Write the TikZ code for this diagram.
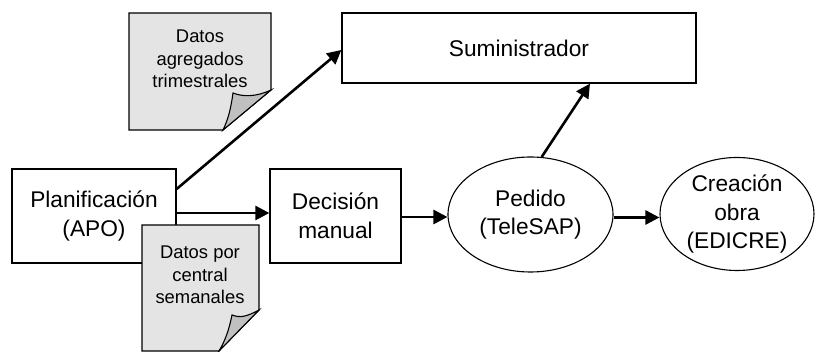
\documentclass[tikz,border=0pt]{standalone}
\usepackage{fontspec}
\setmainfont{Liberation Sans}
\usetikzlibrary{shapes.geometric,arrows.meta}
\definecolor{notefill}{HTML}{E4E4E4}
\definecolor{flapfill}{HTML}{C0C0C0}
\begin{document}
\begin{tikzpicture}[x=1pt,y=-1pt,
  boxnode/.style={draw,line width=1.3pt,inner sep=0pt,align=center,
    font=\fontsize{22.7}{28.5}\selectfont},
  ellnode/.style={ellipse,draw,line width=1.1pt,inner sep=0pt,align=center,
    font=\fontsize{22.7}{28.5}\selectfont},
  notetext/.style={inner sep=0pt,align=center,font=\fontsize{18.4}{22.5}\selectfont},
  notebody/.style={draw,line width=1.1pt,fill=notefill,line join=miter},
  noteflap/.style={draw,line width=1.1pt,fill=flapfill},
  conn/.style={line width=2.6pt,-{Triangle[length=14pt,width=14pt]}}]
\useasboundingbox (0,0) rectangle (817,352);
% nodes
\node[boxnode,minimum width=354pt,minimum height=70pt] (sum) at (519,48) {Suministrador};
\node[boxnode,minimum width=164pt,minimum height=94pt] (plan) at (94,216) {Planificación\\(APO)};
\node[boxnode,minimum width=131pt,minimum height=94pt] (dec) at (335.5,216) {Decisión\\manual};
\node[ellnode,minimum width=165pt,minimum height=115pt] (ped) at (530.5,214.5) {Pedido\\(TeleSAP)};
\node[ellnode,minimum width=154pt,minimum height=113pt] (cre) at (737,214) {Creación\\obra\\(EDICRE)};
% connectors
\draw[conn] ([yshift=27pt]plan.east) -- ([yshift=-2pt]sum.west);
\draw[conn] ([yshift=3pt]plan.east) -- ([yshift=3pt]dec.west);
\draw[conn] ([yshift=-1pt]dec.east) -- ([yshift=-1pt]dec.east -| ped.west);
\draw[conn] (ped.79) -- ([xshift=71pt]sum.south);
\draw[conn] ([yshift=-3pt]ped.east) -- ([yshift=-3pt]ped.east -| cre.west);
% note 1
\draw[notebody] (129,13) -- (271,13) -- (271,90) -- (223,130) -- (129,130) -- cycle;
\draw[noteflap] (271,90) .. controls (256,97) and (243,97) .. (233,93)
  .. controls (231,108) and (228,120) .. (223,130) -- cycle;
\node[notetext] (n1) at (200,59) {Datos\\agregados\\trimestrales};
% note 2
\draw[notebody] (142,225) -- (259,225) -- (259,310) -- (219,351) -- (142,351) -- cycle;
\draw[noteflap] (259,310) .. controls (246,317) and (240,318) .. (232,315)
  .. controls (229,330) and (225,341) .. (219,351) -- cycle;
\node[notetext] (n2) at (200,275) {Datos por\\central\\semanales};
\end{tikzpicture}
\end{document}
